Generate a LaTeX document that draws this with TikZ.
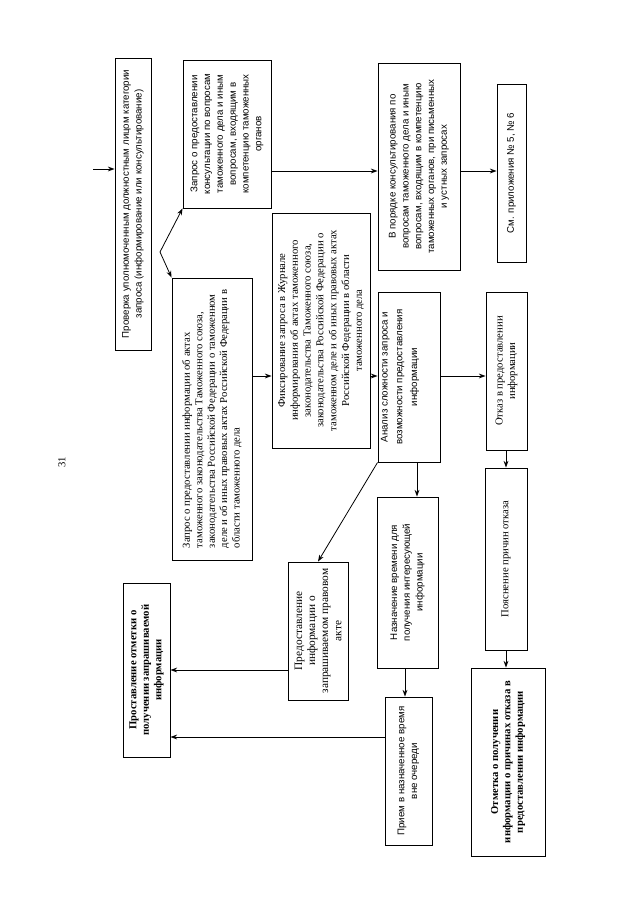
\documentclass[tikz,border=0pt]{standalone}
\usepackage{fontspec}
\setmainfont{Liberation Serif}
\setsansfont{Liberation Sans}
\usetikzlibrary{arrows.meta}
% name, x1, y1, x2, y2, text style, text
\newcommand\bx[7]{%
  \node[box, minimum width={(#4-#2)*0.75pt}, minimum height={(#5-#3)*0.75pt}] (#1) at ({(#2+#4)/2},{(#3+#5)/2}) {};
  \node[txt, #6] (#1t) at (#1.center) {#7};}
\begin{document}
\begin{tikzpicture}[x=0.75pt,y=-0.75pt,
  box/.style={draw, line width=0.7pt, inner sep=0pt, fill=white},
  txt/.style={rotate=90, inner sep=0pt, align=center},
  sfs/.style={font=\sffamily\fontsize{7.3}{9.6}\selectfont},
  srs/.style={font=\rmfamily\fontsize{8}{9.3}\selectfont},
  srb/.style={font=\rmfamily\bfseries\fontsize{8}{9.3}\selectfont},
  arr/.style={-{Stealth[length=5pt,width=3.6pt]}, line width=0.6pt}]
\useasboundingbox (0,0) rectangle (640,905);
\fill[white] (0,0) rectangle (640,905);

\node[rotate=90, font=\rmfamily\fontsize{8}{9}\selectfont] (pg) at (62,462) {31};

\bx{box1}{115}{58}{151}{350}{sfs}{Проверка уполномоченным должностным лицом категории\\запроса (информирование или консультирование)}
\bx{box2}{183}{60}{271}{208}{sfs}{Запрос о предоставлении\\консультации по вопросам\\таможенного дела и иным\\вопросам, входящим в\\компетенцию таможенных\\органов}
\bx{box3}{172}{278}{252}{560}{srs, align=left}{Запрос о предоставлении информации об актах\\таможенного законодательства Таможенного союза,\\законодательства Российской Федерации о таможенном\\деле и об иных правовых актах Российской Федерации в\\области таможенного дела}
\bx{box4}{272}{213}{370}{448}{font=\rmfamily\fontsize{8}{9.6}\selectfont}{Фиксирование запроса в Журнале\\информирования об актах таможенного\\законодательства Таможенного союза,\\законодательства Российской Федерации о\\таможенном деле и об иных правовых актах\\Российской Федерации в области\\таможенного дела}
\node[box, minimum width={62*0.75pt}, minimum height={170*0.75pt}] (box5) at (409,377) {};
\node[txt, font=\sffamily\fontsize{7.3}{11}\selectfont] (box5t) at (400,377) {Анализ сложности запроса и\\возможности предоставления\\информации};
\bx{vpor}{378}{63}{460}{270}{sfs}{В порядке консультирования по\\вопросам таможенного дела и иным\\вопросам, входящим в компетенцию\\таможенных органов, при письменных\\и устных запросах}
\bx{sm}{497}{84}{526}{262}{sfs}{См. приложения № 5, № 6}
\bx{otkaz}{486}{292}{527}{450}{srs}{Отказ в предоставлении\\информации}
\bx{poyasn}{485}{468}{527}{650}{srs}{Пояснение причин отказа}
\bx{otmetka}{471}{668}{545}{856}{srb}{Отметка о получении\\информации о причинах отказа в\\предоставлении информации}
\bx{prost}{123}{583}{170}{757}{srb}{Проставление отметки о\\получении запрашиваемой\\информации}
\bx{predost}{288}{562}{348}{700}{font=\rmfamily\fontsize{8.5}{9.8}\selectfont}{Предоставление\\информации о\\запрашиваемом правовом\\акте}
\bx{naznach}{377}{497}{438}{668}{sfs}{Назначение времени для\\получения интересующей\\информации}
\bx{priem}{385}{697}{432}{845}{sfs}{Прием в назначенное время\\вне очереди}

\coordinate (in0) at (93,169);
\coordinate (fork) at (160,252);
\draw[arr] (in0) -- (in0 -| box1.west);
\draw[arr] (fork) -- (box2.south west);
\draw[arr] (fork) -- (box3.north west);
\draw[arr] (box2.east |- 0,171) -- (vpor.west |- 0,171);
\draw[arr] (vpor.east |- 0,171) -- (sm.west |- 0,171);
\draw[arr] (box3.east |- 0,376) -- (box4.west |- 0,376);
\draw[arr] (box4.east |- 0,376) -- (box5.west |- 0,376);
\draw[arr] (box5.east |- 0,376) -- (otkaz.west |- 0,376);
\draw[arr] (box5.south -| 417,0) -- (naznach.north -| 417,0);
\draw[arr] (box5.south west) -- (predost.north -| 318,0);
\draw[arr] (naznach.south -| 405,0) -- (priem.north -| 405,0);
\draw[arr] (predost.west |- 0,670) -- (prost.east |- 0,670);
\draw[arr] (priem.west |- 0,737) -- (prost.east |- 0,737);
\draw[arr] (otkaz.south -| 506,0) -- (poyasn.north -| 506,0);
\draw[arr] (poyasn.south -| 506,0) -- (otmetka.north -| 506,0);
\end{tikzpicture}
\end{document}
